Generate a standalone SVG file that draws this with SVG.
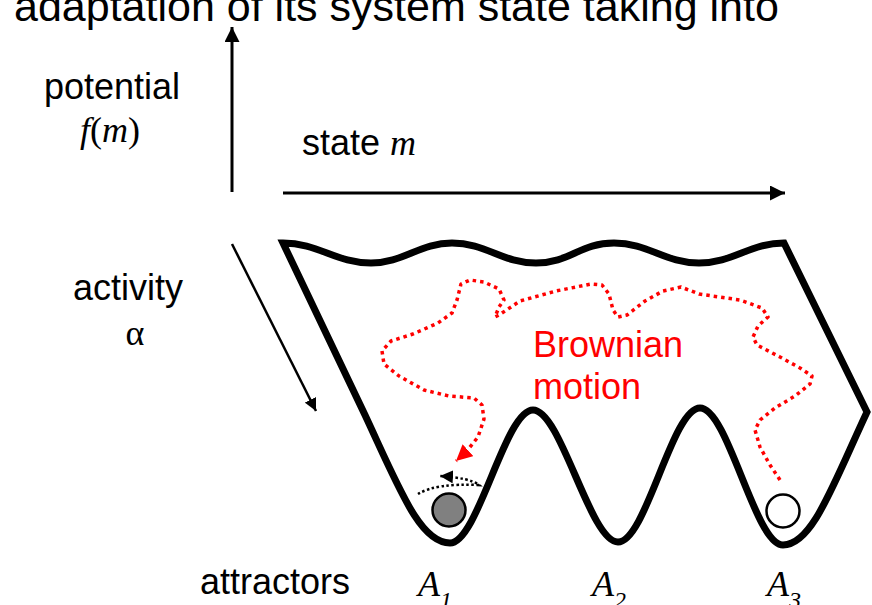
<svg xmlns="http://www.w3.org/2000/svg" width="872" height="605" viewBox="0 0 872 605">
<style>
.sans{font-family:"Liberation Sans",Arial,sans-serif;font-size:36px;fill:#000}
.serif{font-family:"Liberation Serif","Times New Roman",serif;font-size:36px;fill:#000}
.it{font-style:italic}
.axis{stroke:#000;stroke-width:3;fill:none}
.land{stroke:#000;stroke-width:7;fill:none;stroke-linejoin:miter}
.brown{stroke:#ff0000;stroke-width:3.5;fill:none;stroke-dasharray:3.5 4;stroke-linejoin:round}
.spin{stroke:#000;stroke-width:2.5;fill:none;stroke-dasharray:2.5 2.5}
.red{fill:#ff0000}
</style>
<defs>
<marker id="ah" viewBox="0 0 10 10" refX="10" refY="5" markerWidth="5" markerHeight="5" markerUnits="strokeWidth" orient="auto">
<path d="M0,0 L10,5 L0,10 Z" fill="#000"/>
</marker>
<marker id="ahr" viewBox="0 0 10 10" refX="10" refY="5" markerWidth="4.6" markerHeight="4.6" markerUnits="strokeWidth" orient="auto">
<path d="M0,0 L10,5 L0,10 Z" fill="#ff0000"/>
</marker>
<marker id="ahs" viewBox="0 0 10 10" refX="10" refY="5" markerWidth="5.2" markerHeight="5.2" markerUnits="strokeWidth" orient="auto">
<path d="M0,0 L10,5 L0,10 Z" fill="#000"/>
</marker>
</defs>

<g id="heading">
<text class="sans" x="14" y="21" style="font-size:43px">adaptation of its system state taking into</text>
</g>

<g id="connectors">
<line class="axis" x1="232" y1="192" x2="232" y2="27" marker-end="url(#ah)"/>
<line class="axis" x1="283" y1="193" x2="785" y2="193" marker-end="url(#ah)"/>
<line class="axis" x1="232" y1="244" x2="316" y2="411" style="stroke-width:2.5" marker-end="url(#ah)"/>
<polyline class="brown" marker-end="url(#ahr)" points="780,480 770,465 760,447 755,430 760,420 775,408 795,396 810,384 812,376 800,368 780,357 757,345 753,337 758,326 768,317 762,308 740,300 699,294 681,287 663,291 645,301 627,315 618,317 613,310 609,294 602,285 591,284 556,291 520,301 499,315 495,317 499,307 504,300 499,289 484,282 470,280 461,284 457,300 452,313 438,323 413,334 391,341 382,351 384,364 399,376 424,390 449,396 474,398 482,405 484,419 478,437 466,452 456,461"/>
<path class="spin" marker-end="url(#ahs)" d="M418,494 Q436,483 479,485 Q470,478 440,476"/>
</g>

<g id="landscape">
<path class="land" d="M283,243 C318,243 336,263 371,263 C403,263 420,243 452,243 C486,243 502,263 536,263 C570,263 580,243 614,243 C648,243 665,263 699,263 C733,263 750,243 784,243 L867,412 C832,487 812,545 783,545 C755,545 728,408 700,408 C672,408 646,542 618,542 C590,542 561,410 533,410 C505,410 478,543 450,543 C420,543 400,490 365,415 Z"/>
</g>

<g id="ball-A1">
<circle cx="449" cy="510" r="16.5" fill="#808080" stroke="#000" stroke-width="2.5"/>
</g>
<g id="ball-A3">
<circle cx="783" cy="511" r="16.5" fill="#fff" stroke="#000" stroke-width="2.5"/>
</g>

<g id="label-potential">
<text class="sans" x="44" y="99">potential</text>
<text class="serif" x="110" y="142" text-anchor="middle"><tspan class="it">f</tspan>(<tspan class="it">m</tspan>)</text>
</g>
<g id="label-state">
<text class="sans" x="302" y="155">state <tspan class="serif it" style="font-family:'Liberation Serif','Times New Roman',serif">m</tspan></text>
</g>
<g id="label-activity">
<text class="sans" x="73" y="300">activity</text>
<text class="serif" x="135" y="345" text-anchor="middle">α</text>
</g>
<g id="label-brownian">
<text class="sans red" x="533" y="357">Brownian</text>
<text class="sans red" x="533" y="399">motion</text>
</g>
<g id="label-attractors">
<text class="sans" x="200" y="594">attractors</text>
</g>
<g id="label-A1"><text class="serif it" x="418" y="596">A<tspan style="font-size:24px" dy="12">1</tspan></text></g>
<g id="label-A2"><text class="serif it" x="592" y="596">A<tspan style="font-size:24px" dy="12">2</tspan></text></g>
<g id="label-A3"><text class="serif it" x="767" y="596">A<tspan style="font-size:24px" dy="12">3</tspan></text></g>
</svg>
